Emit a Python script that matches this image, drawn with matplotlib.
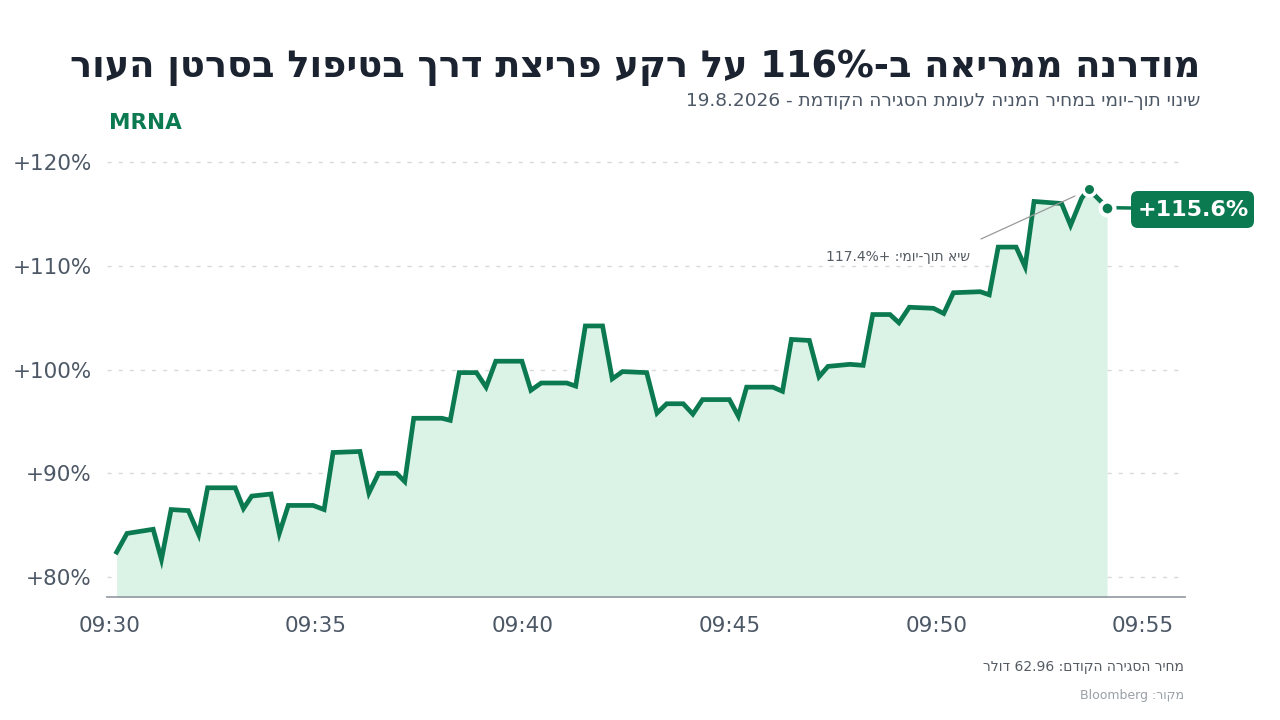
import re

import matplotlib
matplotlib.use('Agg')
import matplotlib.pyplot as plt
import matplotlib.dates as mdates
import pandas as pd
from matplotlib.patches import FancyBboxPatch

# נתוני מניית מודרנה - שינוי מול סגירה קודמת (%)
times = [
    '09:30:11', '09:30:26', '09:31:04', '09:31:16', '09:31:30', '09:31:55', '09:32:10', '09:32:23',
    '09:33:03', '09:33:15', '09:33:27', '09:33:55', '09:34:07', '09:34:20', '09:34:56', '09:35:12',
    '09:35:25', '09:36:04', '09:36:17', '09:36:31', '09:36:57', '09:37:09', '09:37:22', '09:38:03',
    '09:38:15', '09:38:28', '09:38:53', '09:39:07', '09:39:21', '09:39:59', '09:40:12', '09:40:27',
    '09:41:04', '09:41:17', '09:41:31', '09:41:56', '09:42:10', '09:42:25', '09:43:00', '09:43:15',
    '09:43:29', '09:43:53', '09:44:07', '09:44:21', '09:45:00', '09:45:13', '09:45:25', '09:46:03',
    '09:46:17', '09:46:30', '09:46:56', '09:47:10', '09:47:23', '09:47:55', '09:48:14', '09:48:28',
    '09:48:53', '09:49:06', '09:49:21', '09:49:56', '09:50:11', '09:50:25', '09:51:04', '09:51:17',
    '09:51:30', '09:51:56', '09:52:09', '09:52:22', '09:53:02', '09:53:15', '09:53:31', '09:53:41',
    '09:54:08',
]
change_pct = [
    82.4, 84.2, 84.6, 81.7, 86.5, 86.4, 84.1, 88.6,
    88.6, 86.6, 87.8, 88.0, 84.2, 86.9, 86.9, 86.5,
    92.0, 92.1, 88.1, 90.0, 90.0, 89.2, 95.3, 95.3,
    95.1, 99.7, 99.7, 98.3, 100.8, 100.8, 98.0, 98.7,
    98.7, 98.4, 104.2, 104.2, 99.1, 99.8, 99.7, 95.8,
    96.7, 96.7, 95.7, 97.1, 97.1, 95.5, 98.3, 98.3,
    97.9, 102.9, 102.8, 99.3, 100.3, 100.5, 100.4, 105.3,
    105.3, 104.5, 106.0, 105.9, 105.4, 107.4, 107.5, 107.2,
    111.8, 111.8, 109.9, 116.2, 116.0, 113.9, 116.5, 117.4,
    115.6,
]
y_ticks = [80, 90, 100, 110, 120]
x_ticks = ['09:30', '09:35', '09:40', '09:45', '09:50', '09:55']

day = '2026-08-19 '
title = 'מודרנה ממריאה ב-116% על רקע פריצת דרך בטיפול בסרטן העור'
subtitle = 'שינוי תוך-יומי במחיר המניה לעומת הסגירה הקודמת - 19.8.2026'
ticker = 'MRNA'
peak_note = 'שיא תוך-יומי: +117.4%'
prev_close = 'מחיר הסגירה הקודם: 62.96 דולר'
source = 'מקור: Bloomberg'

GREEN = '#0b7a51'
FILL = '#dbf2e7'
DARK = '#1b2230'
GRAY = '#4d5866'


def visual(text: str) -> str:
    # matplotlib לא מבצע bidi - הופכים את המחרוזת ומחזירים רצפים של מספרים/לטינית
    rev = text[::-1]
    return re.sub(r'[0-9A-Za-z.%]+', lambda m: m.group(0)[::-1], rev)


def px(x, y):
    # פיקסלים מלמעלה-שמאל -> קואורדינטות figure pixels
    return (x, 720 - y)


df = pd.DataFrame({'time': pd.to_datetime([day + t for t in times]), 'pct': change_pct})

fig = plt.figure(figsize=(12.8, 7.2), dpi=100)
ax = fig.add_axes([107 / 1280, 0.1708, 1078 / 1280, 0.633])

ax.fill_between(df['time'], df['pct'], 70, color=FILL, lw=0, zorder=1)
ax.plot(df['time'], df['pct'], color=GREEN, lw=3.4, solid_joinstyle='miter', zorder=3)

peak = df.loc[df['pct'].idxmax()]
last = df.iloc[-1]
ax.plot(peak['time'], peak['pct'], 'o', ms=9, color=GREEN, mec='white', mew=2.5, zorder=4)
ax.plot(last['time'], last['pct'], 'o', ms=10, color=GREEN, mec='white', mew=3, zorder=4)

ax.set_ylim(78.07, 122)
ax.set_xlim(pd.Timestamp(day + '09:29:57'), pd.Timestamp(day + '09:56:01'))
ax.set_yticks(y_ticks)
ax.set_yticklabels([f'+{v}%' for v in y_ticks])
ax.set_xticks([pd.Timestamp(day + t) for t in x_ticks])
ax.xaxis.set_major_formatter(mdates.DateFormatter('%H:%M'))
ax.tick_params(length=0, labelsize=15.5, colors=GRAY)
ax.tick_params(axis='y', pad=11)
ax.tick_params(axis='x', pad=14)
ax.yaxis.grid(True, color='#d9d9d9', linestyle=(0, (3, 5)), lw=1)
ax.set_axisbelow(True)
for side in ['top', 'right', 'left']:
    ax.spines[side].set_visible(False)
ax.spines['bottom'].set_color('#9aa0a6')
ax.spines['bottom'].set_linewidth(1.3)

# קו מחבר ותווית הערך האחרון
ax.annotate('', xy=px(1131, 208), xycoords='figure pixels',
            xytext=(last['time'], last['pct']), textcoords='data',
            arrowprops=dict(arrowstyle='-', color=GREEN, lw=2.5, shrinkA=6, shrinkB=0), zorder=2)
box = FancyBboxPatch(px(1131, 228), 123, 37, boxstyle='round,pad=0,rounding_size=7',
                     transform=None, facecolor=GREEN, edgecolor='none', figure=fig)
fig.patches.append(box)
fig.text(1193 / 1280, 1 - 210 / 720, f'+{last["pct"]:.1f}%', color='white', fontsize=16,
         fontweight='bold', ha='center', va='center')

# הערת שיא
ax.text(970, 720 - 257, visual(peak_note), transform=None, ha='right', va='center',
        fontsize=10, color='#555b63')
ax.annotate('', xy=px(1075, 196), xycoords='figure pixels',
            xytext=px(981, 239), textcoords='figure pixels',
            arrowprops=dict(arrowstyle='-', color='#9a9a9a', lw=0.9, shrinkA=0, shrinkB=0))

fig.text(1200 / 1280, 1 - 68 / 720, visual(title), ha='right', va='center', fontsize=26.5,
         fontweight='bold', color=DARK)
fig.text(1200 / 1280, 1 - 101 / 720, visual(subtitle), ha='right', va='center', fontsize=13.3,
         color=GRAY)
fig.text(109 / 1280, 1 - 123 / 720, ticker, ha='left', va='center', fontsize=15.5,
         fontweight='bold', color=GREEN)
fig.text(1184 / 1280, 1 - 667 / 720, visual(prev_close), ha='right', va='center', fontsize=10,
         color='#555b63')
fig.text(1184 / 1280, 1 - 695 / 720, visual(source), ha='right', va='center', fontsize=9,
         color='#9aa0a6')

fig.savefig('out.png', dpi=100, facecolor='white')
